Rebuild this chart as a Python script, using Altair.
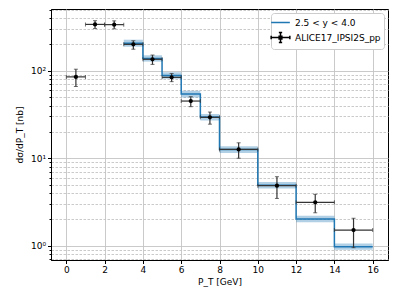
import altair as alt
import pandas as pd

# ---- model (step histogram with band) ----
edges = [3, 4, 5, 6, 7, 8, 10, 12, 14, 16]
model = [206, 138, 88, 54, 29.5, 12.6, 4.9, 2.02, 0.975]
band_lo = [188, 127, 81, 49.5, 27, 11.5, 4.5, 1.86, 0.9]
band_hi = [226, 150, 96, 59, 32, 13.7, 5.35, 2.2, 1.06]

# ---- measured points ----
px = [0.5, 1.5, 2.5, 3.5, 4.5, 5.5, 6.5, 7.5, 9, 11, 13, 15]
px_lo = [0, 1, 2, 3, 4, 5, 6, 7, 8, 10, 12, 14]
px_hi = [1, 2, 3, 4, 5, 6, 7, 8, 10, 12, 14, 16]
py = [85, 338, 336, 200, 135, 84, 45, 29.3, 12.6, 4.85, 3.13, 1.51]
py_lo = [66, 303, 301, 176, 118, 75, 38.8, 24.5, 10.0, 3.47, 2.38, 0.95]
py_hi = [104, 373, 371, 220, 151, 93, 50.5, 33.7, 15.0, 6.15, 3.87, 2.06]

series_model = "2.5 < y < 4.0"
series_data = "ALICE17_IPSI2S_pp"

x_ticks = [0, 2, 4, 6, 8, 10, 12, 14, 16]
y_major = [1, 10, 100]
y_minor = [0.7, 0.8, 0.9, 2, 3, 4, 5, 6, 7, 8, 9,
           20, 30, 40, 50, 60, 70, 80, 90, 200, 300, 400, 500]
x_domain = [-0.8, 16.8]
y_domain = [0.687, 507]

# ---- tables ----
band_df = pd.DataFrame({"lo": edges[:-1], "hi": edges[1:], "blo": band_lo, "bhi": band_hi})
line_df = pd.DataFrame({"x": edges, "y": model + [model[-1]], "series": series_model})
pts_df = pd.DataFrame({"x": px, "xlo": px_lo, "xhi": px_hi, "y": py,
                       "ylo": py_lo, "yhi": py_hi, "series": series_data})

blue = "#1f77b4"
xs = alt.Scale(domain=x_domain, nice=False, zero=False)
ys = alt.Scale(type="log", domain=y_domain, nice=False)

major_test = " || ".join(f"datum.value == {v}" for v in y_major)
sup = {1: "10⁰", 10: "10¹", 100: "10²"}
label_expr = " : ".join(f"datum.value == {k} ? '{v}'" for k, v in sup.items()) + " : ''"

xaxis = alt.Axis(values=x_ticks, title="P_T [GeV]", grid=True, gridColor="#c4c4c4",
                 gridWidth=0.9, tickSize=3.5, labelPadding=2, titlePadding=3)
yaxis = alt.Axis(values=sorted(y_major + y_minor), title="dσ/dP_T [nb]", grid=True,
                 gridColor="#c4c4c4", gridWidth=0.9,
                 gridDash={"condition": {"test": f"!({major_test})", "value": [2.5, 1.5]}, "value": []},
                 tickSize={"condition": {"test": major_test, "value": 3.5}, "value": 2},
                 labelExpr=label_expr, labelPadding=2, titlePadding=6)

color_scale = alt.Scale(domain=[series_model, series_data], range=[blue, "black"])
shape_scale = alt.Scale(
    domain=[series_model, series_data],
    range=["M-1.7,0H1.7",
           "M-1.7,0H1.7M0,-0.9V0.9M-1.7,-0.3V0.3M1.7,-0.3V0.3M-0.3,-0.9H0.3M-0.3,0.9H0.3"
           "M-0.25,-0.25H0.25V0.25H-0.25Z"],
)
legend = alt.Legend(title=None, orient="top-right", offset=4, padding=3,
                    fillColor="white", strokeColor="#cccccc", cornerRadius=3,
                    labelFontSize=9, symbolSize=121, labelOffset=8, rowPadding=1,
                    symbolStrokeWidth=1.5)

band = alt.Chart(band_df).mark_rect(color=blue, opacity=0.35).encode(
    x=alt.X("lo:Q", scale=xs, axis=xaxis), x2="hi:Q",
    y=alt.Y("blo:Q", scale=ys, axis=yaxis), y2="bhi:Q",
)

line = alt.Chart(line_df).mark_line(interpolate="step-after", strokeWidth=1.5).encode(
    x=alt.X("x:Q", scale=xs, axis=xaxis),
    y=alt.Y("y:Q", scale=ys, axis=yaxis),
    color=alt.Color("series:N", scale=color_scale, legend=legend),
)

ebar_color = "#333333"
xbar = alt.Chart(pts_df).mark_rule(color=ebar_color, strokeWidth=1.2).encode(
    x=alt.X("xlo:Q", scale=xs, axis=xaxis), x2="xhi:Q",
    y=alt.Y("y:Q", scale=ys, axis=yaxis),
)
ybar = alt.Chart(pts_df).mark_rule(color=ebar_color, strokeWidth=1.2).encode(
    x=alt.X("x:Q", scale=xs, axis=xaxis),
    y=alt.Y("ylo:Q", scale=ys, axis=yaxis), y2="yhi:Q",
)
xcap_lo = alt.Chart(pts_df).mark_tick(color=ebar_color, orient="vertical", size=4, thickness=1).encode(
    x=alt.X("xlo:Q", scale=xs, axis=xaxis), y=alt.Y("y:Q", scale=ys, axis=yaxis))
xcap_hi = alt.Chart(pts_df).mark_tick(color=ebar_color, orient="vertical", size=4, thickness=1).encode(
    x=alt.X("xhi:Q", scale=xs, axis=xaxis), y=alt.Y("y:Q", scale=ys, axis=yaxis))
ycap_lo = alt.Chart(pts_df).mark_tick(color=ebar_color, orient="horizontal", size=4, thickness=1).encode(
    x=alt.X("x:Q", scale=xs, axis=xaxis), y=alt.Y("ylo:Q", scale=ys, axis=yaxis))
ycap_hi = alt.Chart(pts_df).mark_tick(color=ebar_color, orient="horizontal", size=4, thickness=1).encode(
    x=alt.X("x:Q", scale=xs, axis=xaxis), y=alt.Y("yhi:Q", scale=ys, axis=yaxis))

pts = alt.Chart(pts_df).mark_point(filled=True, shape="circle", size=18, color="black", opacity=1).encode(
    x=alt.X("x:Q", scale=xs, axis=xaxis), y=alt.Y("y:Q", scale=ys, axis=yaxis))

legend_carrier = alt.Chart(pts_df).mark_point(filled=False, opacity=0, strokeWidth=1.5).encode(
    x=alt.X("x:Q", scale=xs, axis=xaxis), y=alt.Y("y:Q", scale=ys, axis=yaxis),
    color=alt.Color("series:N", scale=color_scale, legend=legend),
    shape=alt.Shape("series:N", scale=shape_scale, legend=legend),
)

chart = alt.layer(band, line, xbar, ybar, xcap_lo, xcap_hi, ycap_lo, ycap_hi, pts, legend_carrier).properties(
    width=337, height=251,
    autosize=alt.AutoSizeParams(type="none"),
    padding={"left": 43, "top": 1, "right": 3, "bottom": 30},
).configure(
    font="DejaVu Sans",
).configure_view(
    stroke="black", strokeWidth=1,
).configure_axis(
    domainColor="black", tickColor="black", labelColor="black", titleColor="black",
    labelFontSize=9, titleFontSize=9, titleFontWeight="normal", labelFont="DejaVu Sans",
    titleFont="DejaVu Sans",
).configure_legend(
    labelFont="DejaVu Sans", labelColor="black",
)

chart.save("out.html", embed_options={"renderer": "svg", "actions": False})
